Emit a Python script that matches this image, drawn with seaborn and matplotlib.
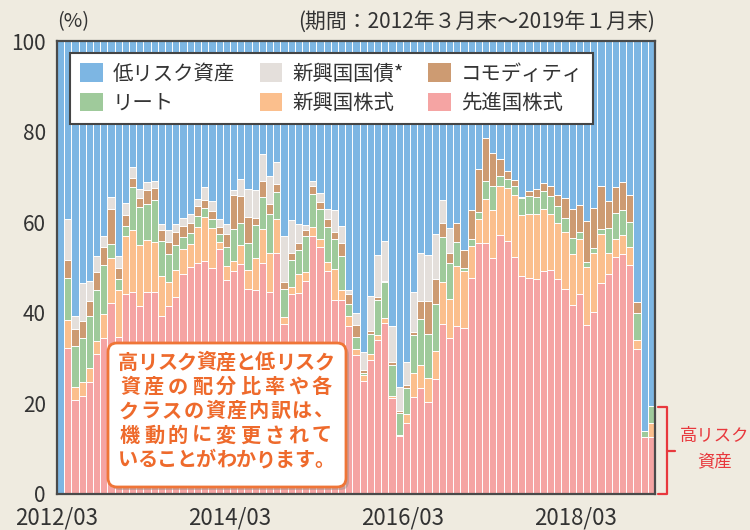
import numpy as np
import pandas as pd
import seaborn as sns
import matplotlib.pyplot as plt
from matplotlib.patches import Patch, FancyBboxPatch
from matplotlib.lines import Line2D

# monthly allocation (%), 2012/03 - 2019/01
dev_eq = [0, 32.2, 20.8, 21.7, 24.7, 30.9, 34.4, 42.1, 34.7, 44.2, 44.7, 41.4, 44.5, 44.7, 39.4, 41.4,
          43.4, 48.6, 50.2, 51.1, 51.5, 50.0, 54.0, 47.2, 49.3, 50.8, 45.3, 45.0, 51.0, 44.6, 53.2, 37.5,
          44.2, 44.4, 47.0, 56.9, 54.5, 49.2, 42.8, 42.8, 37.0, 30.6, 25.0, 29.6, 33.9, 37.7, 21.3, 12.8,
          15.6, 21.5, 23.3, 20.4, 25.4, 37.6, 34.4, 37.0, 36.7, 47.7, 55.4, 55.3, 52.2, 57.1, 55.9, 52.3,
          48.1, 47.7, 47.4, 49.2, 49.4, 47.5, 45.3, 41.7, 44.2, 37.4, 40.2, 46.6, 48.5, 52.3, 52.9, 50.6,
          32.0, 12.6, 12.6]
em_eq = [0, 6.2, 2.9, 3.1, 3.1, 2.9, 5.4, 9.9, 10.3, 12.7, 13.6, 13.5, 11.6, 11.0, 8.8, 5.3,
         6.0, 5.4, 5.0, 7.9, 9.6, 8.8, 1.7, 3.2, 2.1, 4.1, 4.1, 7.0, 7.4, 8.6, 7.4, 1.6,
         1.5, 4.2, 2.1, 2.0, 1.8, 2.0, 6.8, 2.3, 2.4, 1.5, 1.2, 1.3, 1.2, 1.2, 0.3, 0.2,
         2.1, 5.2, 5.1, 5.1, 6.1, 9.2, 8.7, 13.3, 12.6, 7.0, 5.4, 9.9, 10.6, 11.0, 11.7, 13.6,
         13.5, 14.2, 14.3, 13.8, 12.5, 12.3, 12.5, 11.3, 12.0, 12.7, 13.0, 10.7, 4.6, 4.1, 4.2, 4.0,
         2.1, 0, 3.0]
reit = [0, 9.3, 9.0, 9.6, 11.4, 11.3, 10.7, 3.2, 2.4, 2.3, 9.4, 8.5, 7.9, 9.3, 7.7, 6.3,
        5.5, 2.8, 2.5, 2.4, 2.0, 2.0, 1.7, 4.2, 7.0, 5.0, 5.9, 7.4, 7.2, 8.6, 6.0, 6.1,
        5.9, 5.3, 7.9, 7.3, 6.6, 7.7, 6.7, 7.5, 2.5, 2.6, 0.6, 4.4, 7.7, 7.8, 6.8, 4.9,
        5.6, 8.5, 10.3, 9.8, 10.4, 9.9, 7.9, 5.3, 0.6, 1.6, 1.4, 4.0, 5.2, 2.0, 2.0, 2.1,
        3.7, 3.8, 3.8, 3.8, 3.9, 3.7, 3.2, 3.5, 1.6, 1.1, 1.1, 1.1, 5.7, 5.7, 5.7, 5.5,
        5.8, 1.2, 3.9]
commodity = [0, 3.9, 3.7, 3.7, 3.5, 3.9, 4.0, 7.7, 2.4, 2.3, 2.1, 2.0, 3.1, 2.6, 2.4, 2.7,
             3.0, 2.4, 2.2, 2.1, 1.8, 1.7, 1.6, 2.8, 7.5, 5.9, 5.8, 1.5, 3.6, 2.2, 1.9, 1.7,
             1.5, 1.4, 1.3, 1.9, 1.6, 1.8, 1.5, 2.8, 2.2, 2.6, 0.6, 0.6, 0.7, 0.4, 0.7, 0.4,
             0.7, 0.6, 3.8, 7.2, 5.5, 3.2, 2.1, 4.3, 4.0, 6.5, 9.5, 9.3, 7.2, 3.8, 1.6, 1.4,
             0.3, 1.2, 1.9, 1.9, 2.3, 2.4, 4.3, 6.5, 6.1, 9.1, 8.8, 9.6, 5.9, 5.7, 6.0, 5.8,
             2.5, 0, 0]
em_bond = [0, 9.0, 2.8, 8.5, 4.4, 3.5, 2.4, 2.7, 2.7, 2.7, 2.4, 2.0, 1.8, 1.6, 1.3, 2.6,
           1.7, 1.8, 1.8, 1.6, 2.9, 2.2, 1.6, 2.2, 1.1, 3.8, 6.2, 6.3, 5.9, 6.2, 4.8, 10.1,
           7.4, 4.3, 1.1, 1.1, 2.0, 2.2, 4.9, 3.7, 0.9, 2.7, 4.0, 7.9, 9.2, 8.8, 7.9, 5.4,
           5.2, 8.8, 10.8, 10.2, 10.0, 4.9, 5.7, 0, 0, 0, 0, 0, 0, 0, 0, 0,
           0, 0, 0, 0, 0, 0, 0, 0, 0, 0, 0, 0, 0, 0, 0, 0,
           0, 0, 0]

tick_pos = [0, 24, 48, 72]
tick_labels = ['2012/03', '2014/03', '2016/03', '2018/03']

names = ['低リスク資産', 'リート', '新興国国債*', '新興国株式', 'コモディティ', '先進国株式']
colors = {'低リスク資産': '#7db6e3', '新興国国債*': '#e4dfdb', 'コモディティ': '#cd9b72',
          'リート': '#9fca9b', '新興国株式': '#fbbf8d', '先進国株式': '#f5a4a3'}

sns.set_theme(style='white')
plt.rcParams['font.family'] = ['Noto Sans CJK JP', 'DejaVu Sans']

W, H = 750, 530
BG = '#efebe0'


def fx(x):
    return x / W


def fy(y):
    return 1 - y / H


n = len(dev_eq)
df = pd.DataFrame({'m': np.arange(n), '先進国株式': dev_eq, '新興国株式': em_eq, 'リート': reit,
                   'コモディティ': commodity, '新興国国債*': em_bond})
# stack from bottom: developed eq, emerging eq, reit, commodity, em bonds, low risk (to 100)
stack = ['先進国株式', '新興国株式', 'リート', 'コモディティ', '新興国国債*']
cum = df[stack].cumsum(axis=1)
df['低リスク資産'] = 100.0

fig = plt.figure(figsize=(7.5, 5.3), dpi=100, facecolor=BG)
ax = fig.add_axes([fx(57), 1 - 494 / H, 598 / W, 453 / H])

layers = [('低リスク資産', df['低リスク資産'])] + [(k, cum[k]) for k in stack[::-1]]
for name, vals in layers:
    sns.barplot(x=df['m'], y=vals, color=colors[name], width=1, saturation=1,
                edgecolor='white', linewidth=0.7, ax=ax)

ax.set_xlim(-0.5, n - 0.5)
ax.set_ylim(0, 100)
ax.set_xlabel('')
ax.set_ylabel('')
ax.set_yticks([0, 20, 40, 60, 80, 100])
ax.set_xticks([p - 0.5 for p in tick_pos])
ax.set_xticklabels(tick_labels)
ax.tick_params(axis='y', direction='in', length=6, width=1.2, color='#444', labelsize=15,
               labelcolor='#333', pad=8, left=True)
ax.tick_params(axis='x', length=0, labelsize=16, labelcolor='#333', pad=9)
for s in ax.spines.values():
    s.set_visible(True)
    s.set_color('#4a4a4a')
    s.set_linewidth(1.6)

handles = [Patch(facecolor=colors[k], edgecolor='none') for k in names]
leg = ax.legend(handles, names, ncol=3, loc='upper left', bbox_to_anchor=(0.022, 0.973),
                borderaxespad=0, fontsize=14.7, frameon=True, fancybox=False, framealpha=1,
                handlelength=1.1, handleheight=1.0, handletextpad=0.5, columnspacing=1.2,
                labelspacing=0.4, borderpad=0.5)
leg.get_frame().set_edgecolor('#444')
leg.get_frame().set_linewidth(1.5)
for t in leg.get_texts():
    t.set_color('#333')

fig.text(fx(57), fy(22), '(%)', fontsize=14.5, color='#333', va='center', ha='left')
fig.text(fx(655), fy(22), '(期間：2012年３月末～2019年１月末)', fontsize=15, color='#333',
         va='center', ha='right')

# callout box
bx0, by0, bx1, by1 = 108, 343, 346, 487
asp = W / H
shadow = FancyBboxPatch((fx(bx0 + 3), fy(by1 + 3)), (bx1 - bx0) / W, (by1 - by0) / H,
                        boxstyle='round,pad=0,rounding_size=0.012', mutation_aspect=asp,
                        transform=fig.transFigure, facecolor='#9a8a80', alpha=0.45,
                        edgecolor='none')
fig.add_artist(shadow)
box = FancyBboxPatch((fx(bx0), fy(by1)), (bx1 - bx0) / W, (by1 - by0) / H,
                     boxstyle='round,pad=0,rounding_size=0.012', mutation_aspect=asp,
                     transform=fig.transFigure, facecolor='white', edgecolor='#ef7537',
                     linewidth=2)
fig.add_artist(box)

note = ['高リスク資産と低リスク', '資産の配分比率や各', 'クラスの資産内訳は、',
        '機動的に変更されて', 'いることがわかります。']
line_y = [362, 386.5, 410.5, 435, 459.5]
tx0, tx1 = 118, 334
for line, yy in zip(note, line_y):
    step = (tx1 - tx0) / len(line)
    for i, ch in enumerate(line):
        fig.text(fx(tx0 + (i + 0.5) * step), fy(yy), ch, fontsize=14.5, color='#ee6a2c',
                 fontweight='bold', ha='center', va='center')

# bracket for high-risk part of the last bar
red = '#e8383d'
for xs, ys in [([658, 667, 667, 658], [407, 407, 494, 494]), ([667, 675], [450.5, 450.5])]:
    fig.add_artist(Line2D([fx(v) for v in xs], [fy(v) for v in ys], color=red, lw=1.6,
                          transform=fig.transFigure))
fig.text(fx(715), fy(436), '高リスク', fontsize=12.5, color=red, ha='center', va='center')
fig.text(fx(715), fy(461), '資産', fontsize=12.5, color=red, ha='center', va='center')

fig.savefig('out.png', dpi=100, facecolor=BG)
